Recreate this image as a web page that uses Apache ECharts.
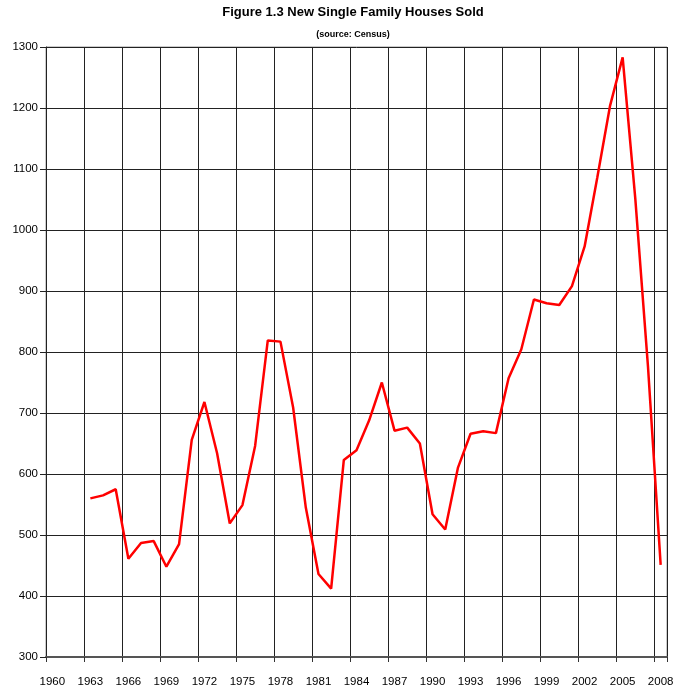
<!DOCTYPE html>
<html><head><meta charset="utf-8">
<script src="https://cdn.jsdelivr.net/npm/echarts@6/dist/echarts.min.js"></script>
<style>html,body{margin:0;padding:0;background:#fff}#c{width:688px;height:694px}</style>
</head><body><div id="c"></div>
<script>
var titleText = 'Figure 1.3 New Single Family Houses Sold';
var subtitleText = '(source: Census)';
var years = ['1960','1961','1962','1963','1964','1965','1966','1967','1968','1969',
  '1970','1971','1972','1973','1974','1975','1976','1977','1978','1979',
  '1980','1981','1982','1983','1984','1985','1986','1987','1988','1989',
  '1990','1991','1992','1993','1994','1995','1996','1997','1998','1999',
  '2000','2001','2002','2003','2004','2005','2006','2007','2008'];
var housesSold = [null,null,null,560,565,575,461,487,490,448,
  485,656,718,634,519,549,646,819,817,709,
  545,436,412,623,639,688,750,671,676,650,
  534,509,610,666,670,667,757,804,886,880,
  877,908,973,1086,1203,1283,1051,776,451];
var yMin = 300, yMax = 1300, yStep = 100;

var font = "'Liberation Sans',Arial,sans-serif";
var chart = echarts.init(document.getElementById('c'), null, {renderer:'canvas'});
chart.setOption({
  animation:false,
  backgroundColor:'#fff',
  title:[
    {text:titleText, left:348, top:1, textAlign:'center',
     textStyle:{fontFamily:font, fontWeight:'bold', fontSize:13, color:'#000'}},
    {text:subtitleText, left:348, top:25, textAlign:'center',
     textStyle:{fontFamily:font, fontWeight:'bold', fontSize:9, color:'#000'}}
  ],
  grid:{left:46, top:47, right:21, bottom:37, show:true, borderColor:'#999', borderWidth:1},
  xAxis:{
    type:'category', data:years, boundaryGap:true,
    axisLine:{show:true, onZero:false, lineStyle:{color:'#555', width:2}},
    axisTick:{show:true, interval:2, length:5, lineStyle:{color:'#333'}},
    axisLabel:{interval:2, margin:19, fontFamily:font, fontSize:11.5, color:'#000'},
    splitLine:{show:true, interval:2, lineStyle:{color:'#222', width:1}}
  },
  yAxis:{
    type:'value', min:yMin, max:yMax, interval:yStep,
    axisLine:{show:true, lineStyle:{color:'#222', width:1}},
    axisTick:{show:true, length:6, lineStyle:{color:'#222'}},
    axisLabel:{margin:8, fontFamily:font, fontSize:11.5, color:'#000',
      formatter:function(v){return String(v);}},
    splitLine:{show:true, lineStyle:{color:'#222', width:1}}
  },
  series:[{
    type:'line', data:housesSold, showSymbol:false, symbol:'none',
    connectNulls:false,
    lineStyle:{color:'#ff0000', width:2.5}
  }]
});
</script></body></html>
